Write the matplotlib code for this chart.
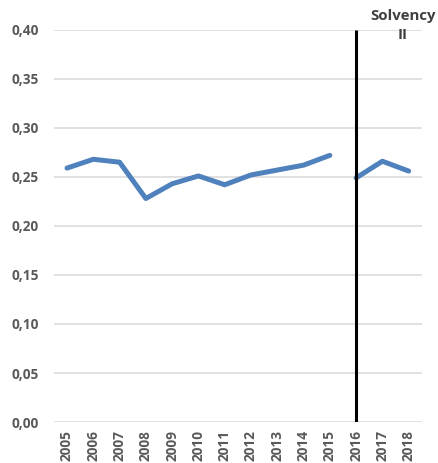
import matplotlib
matplotlib.use("Agg")
import matplotlib.pyplot as plt
from matplotlib.ticker import FuncFormatter

# data
years = ["2005", "2006", "2007", "2008", "2009", "2010", "2011",
         "2012", "2013", "2014", "2015", "2016", "2017", "2018"]
values = [0.259, 0.268, 0.265, 0.228, 0.243, 0.251, 0.242,
          0.252, 0.257, 0.262, 0.272, 0.249, 0.266, 0.256]
break_year = "2016"
y_ticks = [0.00, 0.05, 0.10, 0.15, 0.20, 0.25, 0.30, 0.35, 0.40]

plt.rcParams['font.family'] = ['Open Sans', 'DejaVu Sans']

fig = plt.figure(figsize=(4.38, 4.63), dpi=100)
ax = fig.add_axes([0.123, 0.0885, 0.84, 0.847])

x = list(range(len(years)))
b = years.index(break_year)
blue = "#4F81BD"
# series is split at the regime change
ax.plot(x[:b], values[:b], color=blue, lw=3.6, solid_capstyle='round', solid_joinstyle='round', zorder=3)
ax.plot(x[b:], values[b:], color=blue, lw=3.6, solid_capstyle='round', solid_joinstyle='round', zorder=3)

ax.vlines(b, 0, 0.40, color="black", lw=2.2, zorder=4)

ax.set_xlim(-0.5, len(years) - 0.5)
ax.set_ylim(0, 0.40)
ax.set_yticks(y_ticks)
ax.yaxis.set_major_formatter(FuncFormatter(lambda v, p: ("%.2f" % v).replace(".", ",")))
ax.set_xticks(x)
ax.set_xticklabels(years, rotation=90)

ax.grid(axis='y', color="#D9D9D9", lw=1.1, zorder=0)
ax.set_axisbelow(True)
for s in ax.spines.values():
    s.set_visible(False)
ax.tick_params(length=0, colors="#595959", labelsize=9.8)
for lab in ax.get_xticklabels() + ax.get_yticklabels():
    lab.set_fontweight('bold')
ax.tick_params(axis='y', pad=11)
ax.tick_params(axis='x', pad=6)

fig.text(0.92, 0.98, "Solvency\nII", ha='center', va='top', fontsize=10.8,
         fontweight='bold', color="#404040", linespacing=1.45)

fig.savefig("out.png", dpi=100)
